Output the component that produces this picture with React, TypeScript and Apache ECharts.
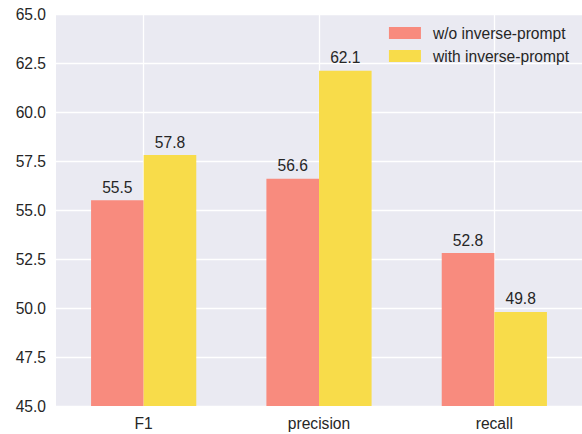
import React, { useEffect, useRef } from "react";
import * as echarts from "echarts";

const categories = ["F1", "precision", "recall"];
const withoutInverse = [55.5, 56.6, 52.8];
const withInverse = [57.8, 62.1, 49.8];
const seriesNames = ["w/o inverse-prompt", "with inverse-prompt"];

const TEXT = "#262626";
const FONT = "'Liberation Sans', Arial, sans-serif";
const FS = 15.6;

export default function App() {
  const ref = useRef<HTMLDivElement>(null);
  useEffect(() => {
    const chart = echarts.init(ref.current!, null, { renderer: "svg" });
    const gridCats: string[] = [];
    categories.forEach((c, i) => {
      gridCats.push("b" + i, c);
    });
    gridCats.push("end");
    const label = {
      show: true,
      position: "top" as const,
      distance: 5,
      color: TEXT,
      fontSize: FS,
      fontFamily: FONT,
      formatter: (p: any) => Number(p.value).toFixed(1),
    };
    chart.setOption({
      animation: false,
      textStyle: { fontFamily: FONT },
      grid: {
        left: 56,
        right: 0,
        top: 14,
        bottom: 28,
        show: true,
        backgroundColor: "#EAEAF2",
        borderWidth: 0,
      },
      legend: {
        right: 8,
        top: 20,
        orient: "vertical",
        itemWidth: 32,
        itemHeight: 12,
        itemGap: 7,
        icon: "rect",
        textStyle: {
          color: TEXT,
          fontSize: FS,
          fontFamily: FONT,
          padding: [0, 0, 0, 7],
        },
        data: seriesNames,
      },
      xAxis: [
        {
          type: "category",
          data: categories,
          axisLine: { show: false },
          axisTick: { show: false },
          axisLabel: { color: TEXT, fontSize: FS, margin: 9, fontFamily: FONT },
          splitLine: { show: false },
        },
        {
          type: "category",
          data: gridCats,
          boundaryGap: false,
          position: "bottom",
          axisLine: { show: false },
          axisTick: { show: false },
          axisLabel: { show: false },
          splitLine: {
            show: true,
            interval: (i: number) => i % 2 === 1,
            lineStyle: { color: "#ffffff", width: 1.3 },
          },
        },
      ],
      yAxis: {
        type: "value",
        min: 45,
        max: 65,
        interval: 2.5,
        axisLine: { show: false },
        axisTick: { show: false },
        axisLabel: {
          color: TEXT,
          fontSize: FS,
          margin: 10,
          fontFamily: FONT,
          formatter: (v: number) => v.toFixed(1),
        },
        splitLine: { show: true, lineStyle: { color: "#ffffff", width: 1.3 } },
      },
      series: [
        {
          name: seriesNames[0],
          type: "bar",
          xAxisIndex: 0,
          data: withoutInverse,
          barWidth: "30%",
          barGap: "0%",
          itemStyle: { color: "#F88B7E" },
          label,
        },
        {
          name: seriesNames[1],
          type: "bar",
          xAxisIndex: 0,
          data: withInverse,
          barWidth: "30%",
          barGap: "0%",
          itemStyle: { color: "#F8DC4A" },
          label,
        },
      ],
    });
    return () => chart.dispose();
  }, []);
  return (
    <div
      ref={ref}
      style={{ position: "absolute", left: 0, top: 0, width: 582, height: 434 }}
    />
  );
}
